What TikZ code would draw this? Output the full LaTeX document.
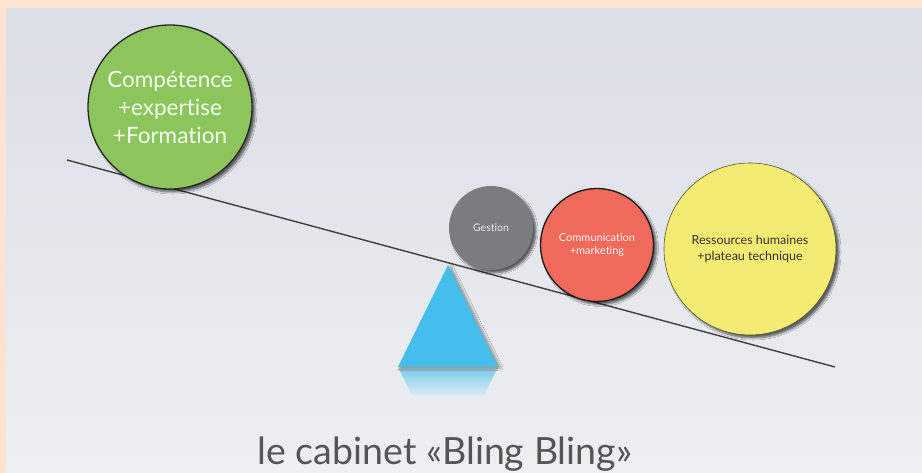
\documentclass[tikz,border=0pt]{standalone}
\usepackage{fontspec}
\setmainfont{Lato}[Ligatures=NoCommon]
\usetikzlibrary{shadows.blur,fadings}
\definecolor{peach}{HTML}{FDE4D2}
\definecolor{bgtop}{HTML}{DADEE5}
\definecolor{bgbot}{HTML}{EDEFF2}
\definecolor{cgreen}{HTML}{8CC55B}
\definecolor{cgray}{HTML}{7A7D7F}
\definecolor{cred}{HTML}{EF6A5B}
\definecolor{cyellow}{HTML}{F4EC72}
\definecolor{cblue}{HTML}{44BFEC}
\definecolor{titlecol}{HTML}{555555}
\tikzset{
  ball/.style={circle, inner sep=0pt, align=center,
    blur shadow={shadow xshift=3pt, shadow yshift=-3pt, shadow blur steps=6, shadow opacity=60}},
}
\begin{document}
\begin{tikzpicture}[x=1pt,y=-1pt]
\useasboundingbox (0,0) rectangle (922,473);
\fill[peach] (0,0) rectangle (922,473);
\shade[top color=bgtop, bottom color=bgbot] (6,9) rectangle (922,473);

% beam
\coordinate (bl) at (67,160);
\coordinate (br) at (835,367);
\draw[line width=1.4pt, color=black!75] (bl) -- (br);

% fulcrum reflection and triangle
\shade[top color=cblue!70!bgbot, bottom color=bgbot] (399,369) -- (497,369) -- (482,399) -- (414,399) -- cycle;
\fill[black!35, opacity=0.5] (398,367) rectangle (498,371);
\fill[cblue, blur shadow={shadow xshift=3pt, shadow yshift=-1pt, shadow opacity=35}]
  (398,367) -- (448,265) -- (498,367) -- cycle;

% balls
\node[ball, fill=cgreen, draw=black!85, line width=1.3pt, minimum size=164pt,
  text=green!5!white, font=\fontsize{22.5}{28}\selectfont] (green) at (170,107)
  {Compétence\\+expertise\\+Formation};
\node[ball, fill=cgray, minimum size=84pt, text=white!92!black,
  font=\fontsize{10.5}{12}\selectfont] (gray) at (491,228) {Gestion};
\node[ball, fill=cred, draw=black!90, line width=1.3pt, minimum size=113pt, text=white!95!red,
  font=\fontsize{11}{13}\selectfont] (red) at (597,245) {Communication\\+marketing};
\node[ball, fill=cyellow, draw=black!40!cyellow!60!black, line width=0.6pt, minimum size=172pt, text=black!80,
  font=\fontsize{12.5}{16}\selectfont] (yellow) at (750,249) {Ressources humaines\\+plateau technique};

% title
\node[anchor=base, text=titlecol, font=\fontsize{37.5}{42}\selectfont, inner sep=0pt] (title) at (445,464)
  {le cabinet «Bling Bling»};
\end{tikzpicture}
\end{document}
